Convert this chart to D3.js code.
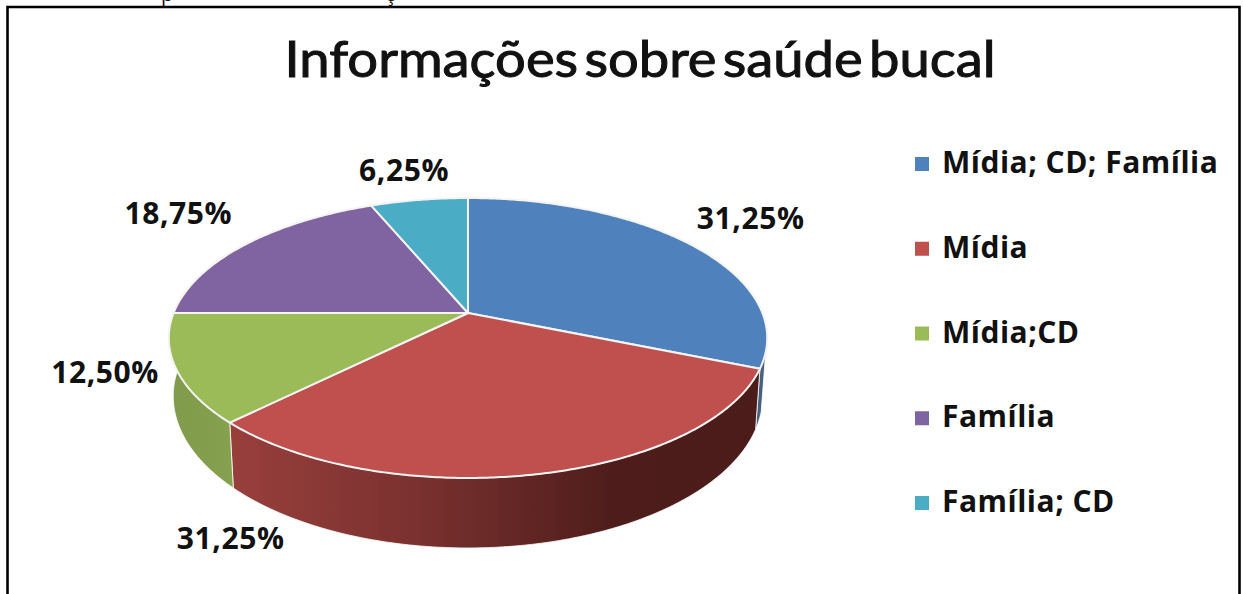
<!DOCTYPE html>
<meta charset="utf-8">
<script src="https://d3js.org/d3.v7.js"></script>
<style>
  html, body { margin: 0; background: #fff; }
  text { fill: #111; font-family: "Open Sans", Lato, sans-serif; }
</style>
<div id="my_dataviz"></div>
<script>
  const categories = ["Mídia; CD; Família", "Mídia", "Mídia;CD", "Família", "Família; CD"]
  const values = [31.25, 31.25, 12.5, 18.75, 6.25]
  const colors = ["#4f81bd", "#c0504d", "#9bbb59", "#8064a2", "#4bacc6"]
  const title = "Informações sobre saúde bucal"

  // label offset from the slice's outer edge, by hand to follow the picture
  const labelNudge = [[60, -26], [-307, 65], [-71, 4], [-67, -31], [-15, -29]]

  const width = 1243, height = 594

  const svg = d3.select("#my_dataviz").append("svg")
    .attr("width", width)
    .attr("height", height)
    .style("display", "block")

  // perspective pie: hub sits above the middle of the ellipse
  const k = 0.1786
  const top3d = {x: 468, y: 313, a: 135.5, b: 294.4}
  const bot3d = {x: 468, y: 369, a: 147, b: 290}

  function project(face, angle) {
    const u = Math.sin(angle), v = -Math.cos(angle), d = 1 - k * v
    return [face.x + face.b * u / d, face.y + face.a * v / d]
  }
  function arcPoints(face, a0, a1) {
    const n = Math.max(2, Math.ceil((a1 - a0) / 0.01))
    return d3.range(n + 1).map(i => project(face, a0 + (a1 - a0) * i / n))
  }

  const slices = d3.pie().sort(null).value(d => d)(values)
  const line = d3.line()

  // shading of the side wall
  const defs = svg.append("defs")
  function sideGradient(id, x1, x2, stops) {
    const g = defs.append("linearGradient").attr("id", id)
      .attr("gradientUnits", "userSpaceOnUse")
      .attr("x1", x1).attr("x2", x2).attr("y1", 0).attr("y2", 0)
    stops.forEach(s => g.append("stop").attr("offset", s[0]).attr("stop-color", s[1]))
  }
  sideGradient("sideRed", 232, 760, [[0, "#983f3c"], [0.35, "#7a312f"], [0.72, "#4e1d1b"], [1, "#4a1c1a"]])
  sideGradient("sideGreen", 172, 236, [[0, "#7f9b4b"], [1, "#86a250"]])

  // only the front of the wall shows
  const walls = [
    {i: 0, a0: 1.85, fill: "#46607f"},
    {i: 1, fill: "url(#sideRed)"},
    {i: 2, a1: 4.72, fill: "url(#sideGreen)"}
  ]
  svg.append("g").selectAll("path")
    .data(walls)
    .join("path")
      .attr("d", w => {
        const a0 = w.a0 || slices[w.i].startAngle
        const a1 = w.a1 || slices[w.i].endAngle
        return line(arcPoints(top3d, a0, a1).concat(arcPoints(bot3d, a0, a1).reverse())) + "Z"
      })
      .attr("fill", w => w.fill)
      .attr("stroke", "#fff")
      .attr("stroke-width", 0.8)

  // top face
  svg.append("g").selectAll("path")
    .data(slices)
    .join("path")
      .attr("d", d => line([[top3d.x, top3d.y]].concat(arcPoints(top3d, d.startAngle, d.endAngle))) + "Z")
      .attr("fill", (d, i) => colors[i])
      .attr("stroke", "#f4f4f4")
      .attr("stroke-width", 2)
      .attr("stroke-linejoin", "round")

  // data labels
  svg.append("g").selectAll("text")
    .data(slices)
    .join("text")
      .attr("text-anchor", "middle")
      .attr("font-size", 30)
      .attr("font-weight", 700)
      .attr("letter-spacing", 0.6)
      .attr("x", (d, i) => project(top3d, (d.startAngle + d.endAngle) / 2)[0] + labelNudge[i][0])
      .attr("y", (d, i) => project(top3d, (d.startAngle + d.endAngle) / 2)[1] + labelNudge[i][1] + 10)
      .text(d => d.value.toFixed(2).replace(".", ",") + "%")

  // legend
  const legendY = d3.scalePoint().domain(categories).range([164, 503])
  const legend = svg.append("g").selectAll("g")
    .data(categories)
    .join("g")
      .attr("transform", d => `translate(915,${legendY(d)})`)
  legend.append("rect")
    .attr("y", -7).attr("width", 14).attr("height", 14)
    .attr("fill", (d, i) => colors[i])
  legend.append("text")
    .attr("x", 27).attr("y", 9)
    .attr("font-size", 30)
    .attr("font-weight", 700)
    .attr("letter-spacing", 0.5)
    .text(d => d)

  // title
  svg.append("text")
    .attr("x", 640).attr("y", 77)
    .attr("text-anchor", "middle")
    .attr("font-size", 50)
    .style("font-family", "Lato")
    .attr("word-spacing", -7)
    .attr("textLength", 711)
    .attr("lengthAdjust", "spacingAndGlyphs")
    .attr("stroke", "#111")
    .attr("stroke-width", 1)
    .text(title)

  // frame, cut off by the bottom of the picture
  svg.append("path")
    .attr("d", `M7.5,${height}V7H1239.5V${height}`)
    .attr("fill", "none")
    .attr("stroke", "#000")
    .attr("stroke-width", 2.6)

  // descenders of the caption line that was cropped above the frame
  svg.append("g").selectAll("text")
    .data([["p", 167], ["ç", 390]])
    .join("text")
      .attr("x", d => d[1]).attr("y", 1)
      .attr("text-anchor", "middle")
      .attr("font-size", 20)
      .text(d => d[0])
</script>
